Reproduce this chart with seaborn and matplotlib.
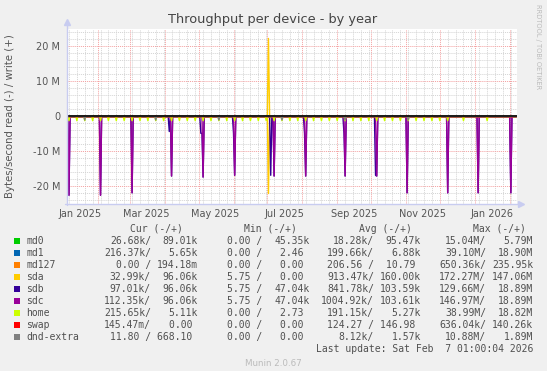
import pandas as pd
import matplotlib
matplotlib.use("Agg")
import matplotlib.pyplot as plt
import matplotlib.dates as mdates
from matplotlib.ticker import MultipleLocator, FuncFormatter
from matplotlib.patches import Rectangle
import seaborn as sns

# ---------------- data ----------------
devices = ["md0", "md1", "md127", "sda", "sdb", "sdc", "home", "swap", "dnd-extra"]
colors = ["#00CC00", "#0066B3", "#FF8000", "#FFCC00", "#330099", "#990099",
          "#CCFF00", "#FF0000", "#808080"]

period_start = "2025-01-04"
period_end = "2026-02-07 01:00"

# daily peaks in MB/s (read negative, write positive); all other days ~0 at this scale
sda_read_dates = ["2025-07-02"]
sda_read_M = [-22.2]
sda_write_dates = ["2025-07-02"]
sda_write_M = [22.1]

sdb_read_dates = ["2025-01-06", "2025-02-03", "2025-03-03", "2025-04-05", "2025-04-07",
                  "2025-05-03", "2025-05-04", "2025-05-05", "2025-06-01", "2025-06-02",
                  "2025-07-04", "2025-07-07", "2025-08-03", "2025-08-04", "2025-09-07",
                  "2025-09-08", "2025-10-05", "2025-10-06", "2025-11-02", "2025-12-08",
                  "2026-01-04", "2026-02-02"]
sdb_read_M = [-22.7, -22.7, -22.0, -4.5, -17.2,
              -5.0, -5.0, -17.5, -5.0, -17.0,
              -17.0, -17.2, -5.0, -17.2, -5.0,
              -17.2, -17.0, -17.2, -22.0, -22.0,
              -22.0, -22.0]

sdc_read_dates = ["2025-01-06", "2025-02-03", "2025-03-03", "2025-04-07", "2025-05-05",
                  "2025-06-02", "2025-07-07", "2025-08-04", "2025-09-08", "2025-10-06",
                  "2025-11-02", "2025-12-08", "2026-01-04", "2026-02-02"]
sdc_read_M = [-22.7, -22.7, -22.0, -17.2, -17.5,
              -17.0, -17.2, -17.2, -17.2, -17.2,
              -22.0, -22.0, -22.0, -22.0]

home_read_dates = ["2025-01-06", "2025-01-13", "2025-01-20", "2025-01-27", "2025-02-03",
                   "2025-02-10", "2025-02-17", "2025-02-24", "2025-03-03", "2025-03-10",
                   "2025-03-17", "2025-03-24", "2025-03-31", "2025-04-07", "2025-04-14",
                   "2025-04-21", "2025-04-28", "2025-05-05", "2025-05-12", "2025-05-19",
                   "2025-05-26", "2025-06-02", "2025-06-09", "2025-06-16", "2025-06-23",
                   "2025-06-30", "2025-07-07", "2025-07-14", "2025-07-21", "2025-07-28",
                   "2025-08-04", "2025-08-11", "2025-08-18", "2025-08-25", "2025-09-01",
                   "2025-09-08", "2025-09-15", "2025-09-22", "2025-09-29", "2025-10-06",
                   "2025-10-13", "2025-10-20", "2025-10-27", "2025-11-03", "2025-11-10",
                   "2025-11-17", "2025-11-24", "2025-12-01", "2025-12-08", "2025-12-22",
                   "2026-01-12"]
home_read_M = [-1.4, -1.4, -1.4, -1.4, -1.4, -1.4, -1.4, -1.4, -1.4, -1.4,
               -1.4, -1.4, -1.4, -1.4, -1.4, -1.4, -1.4, -1.4, -1.4, -1.4,
               -1.4, -1.4, -1.4, -1.4, -1.4, -1.4, -1.4, -1.4, -1.4, -1.4,
               -1.4, -1.4, -1.4, -1.4, -1.4, -1.4, -1.4, -1.4, -1.4, -1.4,
               -1.4, -1.4, -1.4, -1.4, -1.4, -1.4, -1.4, -1.4, -1.4, -1.4,
               -1.4]

dnd_read_dates = ["2025-01-20", "2025-03-24", "2025-05-19", "2025-07-14", "2025-09-08", "2025-11-03"]
dnd_read_M = [-1.2, -1.2, -1.2, -1.2, -1.2, -1.2]

# legend table values (read / write)
cur_read = ["26.68k", "216.37k", "0.00", "32.99k", "97.01k", "112.35k", "215.65k", "145.47m", "11.80"]
cur_write = ["89.01k", "5.65k", "194.18m", "96.06k", "96.06k", "96.06k", "5.11k", "0.00", "668.10"]
min_read = ["0.00", "0.00", "0.00", "5.75", "5.75", "5.75", "0.00", "0.00", "0.00"]
min_write = ["45.35k", "2.46", "0.00", "0.00", "47.04k", "47.04k", "2.73", "0.00", "0.00"]
avg_read = ["18.28k", "199.66k", "206.56", "913.47k", "841.78k", "1004.92k", "191.15k", "124.27", "8.12k"]
avg_write = ["95.47k", "6.88k", "10.79", "160.00k", "103.59k", "103.61k", "5.27k", "146.98", "1.57k"]
max_read = ["15.04M", "39.10M", "650.36k", "172.27M", "129.66M", "146.97M", "38.99M", "636.04k", "10.88M"]
max_write = ["5.79M", "18.90M", "235.95k", "147.06M", "18.89M", "18.89M", "18.82M", "140.26k", "1.89M"]

last_update = "Last update: Sat Feb  7 01:00:04 2026"

# ---------------- build frame ----------------
days = pd.date_range(pd.Timestamp(period_start), pd.Timestamp(period_end).normalize(), freq="D")


def daily(dates, vals_M):
    s = pd.Series(0.0, index=days)
    if dates:
        s.loc[pd.to_datetime(dates)] = [v * 1e6 for v in vals_M]
    return s


events = {dev: {"read": ([], []), "write": ([], [])} for dev in devices}
events["sda"] = {"read": (sda_read_dates, sda_read_M), "write": (sda_write_dates, sda_write_M)}
events["sdb"]["read"] = (sdb_read_dates, sdb_read_M)
events["sdc"]["read"] = (sdc_read_dates, sdc_read_M)
events["home"]["read"] = (home_read_dates, home_read_M)
events["dnd-extra"]["read"] = (dnd_read_dates, dnd_read_M)

frames = []
for dev in devices:
    for direction in ["read", "write"]:
        d, v = events[dev][direction]
        s = daily(d, v)
        frames.append(pd.DataFrame({"date": days, "value": s.values,
                                    "device": dev, "dir": direction}))
df = pd.concat(frames, ignore_index=True)

# ---------------- figure ----------------
sns.set_style("white")
plt.rcParams["font.family"] = ["DejaVu Sans"]

W, H = 547, 371
fig = plt.figure(figsize=(W / 100, H / 100), dpi=100, facecolor="#F0F0F0")


def fx(x):
    return x / W


def fy(y):
    return 1 - y / H


L, R, T, B = 66.7, 516.5, 29.0, 204.0
ax = fig.add_axes([fx(L), fy(B), (R - L) / W, (B - T) / H])
ax.set_facecolor("white")

sns.lineplot(data=df, x="date", y="value", hue="device", hue_order=devices,
             palette=colors, units="dir", estimator=None, legend=False,
             linewidth=1.0, ax=ax)
ax.axhline(0, color="black", lw=1.1, zorder=5)

ax.set_xlim(pd.Timestamp(period_start), pd.Timestamp(period_end))
ax.set_ylim(-25.2e6, 24.8e6)

# grids
dot = (0, (1, 1))
ax.yaxis.set_major_locator(MultipleLocator(10e6))
ax.yaxis.set_minor_locator(MultipleLocator(2e6))
ax.xaxis.set_major_locator(mdates.MonthLocator(bymonthday=1))
ax.xaxis.set_minor_locator(mdates.WeekdayLocator(byweekday=mdates.MO))
ax.grid(which="minor", color="#D4D4D4", linestyle=dot, linewidth=0.7)
ax.grid(which="major", color="#F4A0A0", linestyle=dot, linewidth=0.7)
ax.set_axisbelow(True)

ax.yaxis.set_major_formatter(FuncFormatter(lambda v, p: "0" if abs(v) < 1 else f"{v / 1e6:.0f} M"))
ax.tick_params(axis="y", which="both", length=0, pad=4.8, labelsize=7, labelcolor="#555555")
ax.tick_params(axis="x", which="both", length=0, labelbottom=False)
ax.set_xlabel("")
ax.set_ylabel("")

sec = ax.secondary_xaxis("bottom")
sec.xaxis.set_major_locator(mdates.MonthLocator(bymonth=[1, 3, 5, 7, 9, 11], bymonthday=16))
sec.xaxis.set_major_formatter(mdates.DateFormatter("%b %Y"))
sec.tick_params(length=0, pad=3.5, labelsize=7, labelcolor="#555555")
for sp in sec.spines.values():
    sp.set_visible(False)

for sp in ax.spines.values():
    sp.set_visible(False)
axc = "#C8CCF0"
ax.plot([0, 0], [-0.005, 1.035], transform=ax.transAxes, color=axc, lw=1.0, clip_on=False, zorder=6)
ax.plot([0], [1.04], transform=ax.transAxes, marker="^", ms=4, color=axc, clip_on=False, zorder=6)
ax.plot([-0.004, 1.005], [0, 0], transform=ax.transAxes, color=axc, lw=1.0, clip_on=False, zorder=6)
ax.plot([1.01], [0], transform=ax.transAxes, marker=">", ms=4, color=axc, clip_on=False, zorder=6)

# titles
fig.text(fx(273), fy(20), "Throughput per device - by year", ha="center", va="center",
         fontsize=9.3, color="#444444")
fig.text(fx(10), fy(116), "Bytes/second read (-) / write (+)", rotation=90,
         ha="center", va="center", fontsize=7.3, color="#555555")
fig.text(fx(538), fy(4), "RRDTOOL / TOBI OETIKER", rotation=270, ha="center", va="top",
         fontsize=4.8, color="#BBBBBB")

# legend table
mono = "DejaVu Sans Mono"
fs = 7.03
cw = 0.6021 * fs * 100 / 72  # char width in px
tc = "#505050"
col_end = [198.0, 309.8, 421.0, 533.1]
header_x = [129.8, 244.3, 358.7, 472.8]
for hx, h in zip(header_x, ["Cur (-/+)", "Min (-/+)", "Avg (-/+)", "Max (-/+)"]):
    fig.text(fx(hx), fy(228.5), h, ha="left", va="center", family=mono, fontsize=fs, color=tc)


def split(v):
    if v[-1].isalpha():
        return v[:-1], v[-1]
    return v, " "


def put_right(text, x_end, y):
    fig.text(fx(x_end - len(text) * cw), fy(y), text, ha="left", va="center",
             family=mono, fontsize=fs, color=tc)


cols = [(cur_read, cur_write), (min_read, min_write), (avg_read, avg_write), (max_read, max_write)]
for i, dev in enumerate(devices):
    y = 241 + 12 * i
    fig.patches.append(Rectangle((fx(14.0), fy(y + 2.8)), 5.6 / W, 5.6 / H,
                                 transform=fig.transFigure, facecolor=colors[i],
                                 edgecolor="none"))
    fig.text(fx(26.2), fy(y), dev, ha="left", va="center", family=mono, fontsize=fs, color=tc)
    for (rd, wr), ce in zip(cols, col_end):
        n1, p1 = split(rd[i])
        n2, p2 = split(wr[i])
        put_right(f"{n1}{p1}/", ce - 8 * cw, y)
        put_right(f"{n2}{p2}", ce, y)

put_right(last_update, 533.1, 349)
fig.text(fx(273), fy(364), "Munin 2.0.67", ha="center", va="center", fontsize=6.3, color="#BBBBBB")

fig.savefig("out.png", dpi=100, facecolor=fig.get_facecolor())
